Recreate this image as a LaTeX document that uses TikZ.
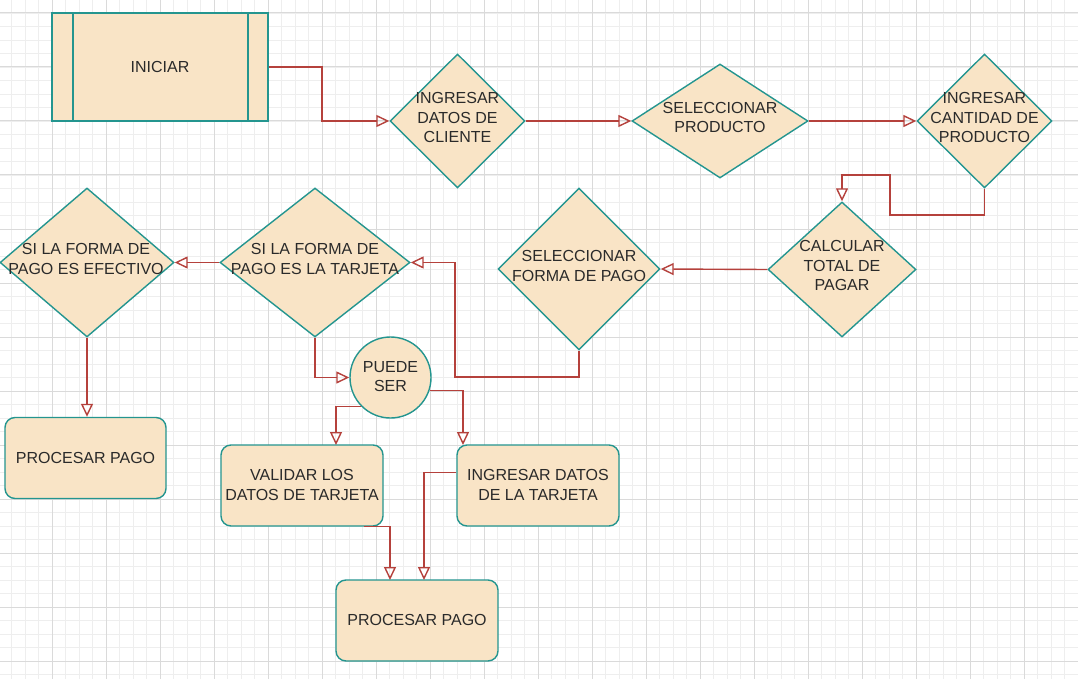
\documentclass[tikz,border=0pt]{standalone}
\usepackage{fontspec}
\setmainfont{Liberation Sans}
\usetikzlibrary{shapes.geometric,arrows.meta}
\definecolor{fillc}{HTML}{F9E4C6}
\definecolor{tealc}{HTML}{24958F}
\definecolor{redc}{HTML}{B5413C}
\definecolor{txtc}{HTML}{2A2A2A}
\definecolor{gminor}{HTML}{EEEEEE}
\definecolor{gmajor}{HTML}{DADADA}
\tikzset{
  shp/.style={draw=tealc, fill=fillc, line width=1.4pt, inner sep=0pt},
  dia/.style={shp, diamond},
  rbox/.style={shp, rectangle, rounded corners=10pt},
  txt/.style={font=\fontsize{16}{19.5}\selectfont, text=txtc, align=center, inner sep=0pt},
  conn/.style={draw=redc, line width=1.4pt, -{Triangle[open, length=13pt, width=12pt, line width=1.4pt]}},
}
\begin{document}
\begin{tikzpicture}[x=1pt, y=-1pt]
\useasboundingbox (0,0) rectangle (1078,679);
\fill[white] (0,0) rectangle (1078,679);
% grid
\foreach \i in {0,...,80} \draw[gminor, line width=0.8pt] ({-2+13.5*\i},0) -- ({-2+13.5*\i},679);
\foreach \j in {0,...,51} \draw[gminor, line width=0.8pt] (0,{-0.5+13.5*\j}) -- (1078,{-0.5+13.5*\j});
\foreach \i in {0,...,20} \draw[gmajor, line width=1pt] ({-2+54*\i},0) -- ({-2+54*\i},679);
\foreach \j in {0,...,12} \draw[gmajor, line width=1pt] (0,{13+54*\j}) -- (1078,{13+54*\j});

% shapes
\node[shp, rectangle, line width=1.8pt, minimum width=216pt, minimum height=108pt] (ini) at (160,67) {};
\draw[tealc, line width=1.8pt] ([xshift=22pt]ini.north west) -- ([xshift=22pt]ini.south west);
\draw[tealc, line width=1.8pt] ([xshift=-21pt]ini.north east) -- ([xshift=-21pt]ini.south east);
\node[txt] at (160,67) {INICIAR};

\node[dia, minimum width=135pt, minimum height=134pt] (d1) at (457.5,121) {};
\node[txt] at (457.5,117.5) {INGRESAR\\DATOS DE\\CLIENTE};

\node[dia, minimum width=176pt, minimum height=114pt] (d2) at (720,121) {};
\node[txt] at (720,117.5) {SELECCIONAR\\PRODUCTO};

\node[dia, minimum width=135pt, minimum height=134pt] (d3) at (984.5,121) {};
\node[txt] at (984.5,117.5) {INGRESAR\\CANTIDAD DE\\PRODUCTO};

\node[dia, minimum width=148pt, minimum height=135pt] (d4) at (842,269.5) {};
\node[txt] at (842,265.5) {CALCULAR\\TOTAL DE\\PAGAR};

\node[dia, minimum width=162pt, minimum height=162pt] (d5) at (579,269) {};
\node[txt] at (579,266) {SELECCIONAR\\FORMA DE PAGO};

\node[dia, minimum width=190pt, minimum height=149pt] (d6) at (315,262.5) {};
\node[txt] at (315,259) {SI LA FORMA DE\\PAGO ES LA TARJETA};

\node[dia, minimum width=174pt, minimum height=149pt] (d7) at (87,262.5) {};
\node[txt] at (86,259) {SI LA FORMA DE\\PAGO ES EFECTIVO};

\node[shp, ellipse, minimum width=81pt, minimum height=81pt] (ps) at (390.5,377.5) {};
\node[txt] at (390.5,376.5) {PUEDE\\SER};

\node[rbox, minimum width=161pt, minimum height=81pt] (pp1) at (85.5,458) {};
\node[txt] at (85.5,458) {PROCESAR PAGO};

\node[rbox, minimum width=162pt, minimum height=81pt] (val) at (302,485.5) {};
\node[txt] at (302,485) {VALIDAR LOS\\DATOS DE TARJETA};

\node[rbox, minimum width=162pt, minimum height=81pt] (ing) at (538,485.5) {};
\node[txt] at (538,485) {INGRESAR DATOS\\DE LA TARJETA};

\node[rbox, minimum width=162pt, minimum height=81pt] (pp2) at (417,620.5) {};
\node[txt] at (417,620) {PROCESAR PAGO};

% connectors
\draw[conn] (ini.east) -- (322,67) |- (d1.west);
\draw[conn] (d1.east) -- (d2.west);
\draw[conn] (d2.east) -- (d3.west);
\coordinate (c1) at (890,215);
\coordinate (c2) at (842,175);
\draw[conn] (d3.south) |- (c1) |- (c2) -- (d4.north);
\draw[conn] (d4.west) -- (d5.east);
\coordinate (c3) at (455,377);
\draw[conn] (d5.south) |- (c3) |- (d6.east);
\draw[conn] (d6.west) -- (d7.east);
\draw[conn] (d7.south) -- (d7.south |- pp1.north);
\draw[conn] (d6.south) |- (ps.west);
\draw[conn] (ps.-135) -| (336,445);
\draw[conn] (ps.-18) -| (463,445);
\draw[conn] ([xshift=-20pt]val.south east) -| (390,580);
\draw[conn] ([yshift=13pt]ing.west) -| (424,580);
\end{tikzpicture}
\end{document}
